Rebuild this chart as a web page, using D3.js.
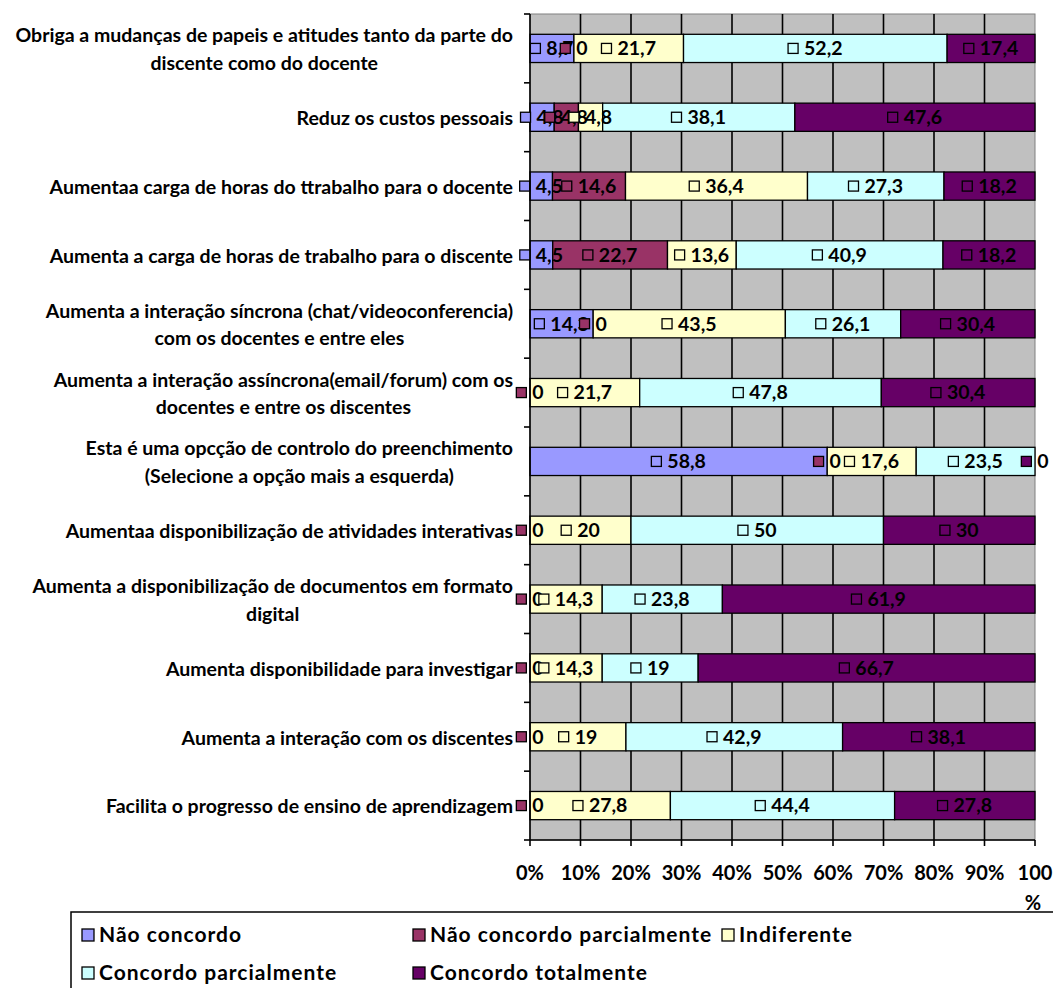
<!DOCTYPE html>
<html lang="pt">

<head>
    <meta charset="UTF-8">
    <title>Stacked 100% bar</title>
    <script src="https://d3js.org/d3.v7.min.js"></script>
    <style>
        body {
            margin: 0;
            background: #fff;
        }

        svg text {
            font-family: Lato, "Open Sans", sans-serif;
            font-weight: bold;
            fill: #000;
        }
    </style>
</head>

<body>
    <svg width="1053" height="988"></svg>

    <script>
        const categories = [
            "Obriga a mudanças de papeis e atitudes tanto da parte do\ndiscente como do docente",
            "Reduz os custos pessoais",
            "Aumentaa carga de horas do ttrabalho para o docente",
            "Aumenta a carga de horas de trabalho para o discente",
            "Aumenta a interação síncrona (chat/videoconferencia)\ncom os docentes e entre eles",
            "Aumenta a interação assíncrona(email/forum) com os\ndocentes e entre os discentes",
            "Esta é uma opcção de controlo do preenchimento\n(Selecione a opção mais a esquerda)",
            "Aumentaa disponibilização de atividades interativas",
            "Aumenta a disponibilização de documentos em formato\ndigital",
            "Aumenta disponibilidade para investigar",
            "Aumenta a interação com os discentes",
            "Facilita o progresso de ensino de aprendizagem"
        ];

        const seriesNames = ["Não concordo", "Não concordo parcialmente", "Indiferente", "Concordo parcialmente", "Concordo totalmente"];
        const seriesColors = ["#9999ff", "#993366", "#ffffcc", "#ccffff", "#660066"];

        const naoConcordo = [8.7, 4.8, 4.5, 4.5, 14.3, null, 58.8, null, null, null, null, null];
        const naoConcordoParc = [0, 4.8, 14.6, 22.7, 0, 0, 0, 0, 0, 0, 0, 0];
        const indiferente = [21.7, 4.8, 36.4, 13.6, 43.5, 21.7, 17.6, 20, 14.3, 14.3, 19, 27.8];
        const concordoParc = [52.2, 38.1, 27.3, 40.9, 26.1, 47.8, 23.5, 50, 23.8, 19, 42.9, 44.4];
        const concordoTot = [17.4, 47.6, 18.2, 18.2, 30.4, 30.4, 0, 30, 61.9, 66.7, 38.1, 27.8];

        const xTicks = ["0%", "10%", "20%", "30%", "40%", "50%", "60%", "70%", "80%", "90%", "100%"];

        const allSeries = [naoConcordo, naoConcordoParc, indiferente, concordoParc, concordoTot];

        // rows for the stack
        const rows = categories.map((c, i) => {
            const r = { cat: c };
            seriesNames.forEach((s, k) => r[s] = allSeries[k][i]);
            return r;
        });

        const svg = d3.select("svg");
        const plotL = 530, plotR = 1035, plotT = 14, plotB = 840;

        const x = d3.scaleLinear().domain([0, 1]).range([plotL, plotR]);
        const y = d3.scaleBand().domain(categories).range([plotT, plotB]).paddingInner(0.59).paddingOuter(0.295);

        const stack = d3.stack()
            .keys(seriesNames)
            .value((d, k) => d[k] == null ? 0 : d[k])
            .offset(d3.stackOffsetExpand);
        const stacked = stack(rows);

        // plot background
        svg.append("rect")
            .attr("x", plotL).attr("y", plotT)
            .attr("width", plotR - plotL).attr("height", plotB - plotT)
            .attr("fill", "#c0c0c0")
            .attr("stroke", "#808080");

        // vertical grid
        svg.append("g")
            .selectAll("line")
            .data(d3.range(1, 10).map(i => i / 10))
            .join("line")
            .attr("x1", d => x(d)).attr("x2", d => x(d))
            .attr("y1", plotT).attr("y2", plotB)
            .attr("stroke", "#000")
            .attr("stroke-width", 1.6);

        // bars
        stacked.forEach((layer, k) => {
            svg.append("g")
                .selectAll("rect")
                .data(layer)
                .join("rect")
                .attr("x", d => x(d[0]))
                .attr("y", d => y(d.data.cat))
                .attr("width", d => x(d[1]) - x(d[0]))
                .attr("height", y.bandwidth())
                .attr("fill", seriesColors[k])
                .attr("stroke", "#000")
                .attr("stroke-width", 1.3);
        });

        // axes
        const yAxis = svg.append("g");
        yAxis.append("line")
            .attr("x1", plotL).attr("x2", plotL)
            .attr("y1", plotT).attr("y2", plotB)
            .attr("stroke", "#000").attr("stroke-width", 1.6);
        yAxis.selectAll("line.tick")
            .data(d3.range(0, categories.length + 1))
            .join("line")
            .attr("class", "tick")
            .attr("x1", plotL - 6).attr("x2", plotL)
            .attr("y1", i => plotT + i * y.step()).attr("y2", i => plotT + i * y.step())
            .attr("stroke", "#000").attr("stroke-width", 1.6);

        const xAxis = svg.append("g");
        xAxis.append("line")
            .attr("x1", plotL).attr("x2", plotR)
            .attr("y1", plotB).attr("y2", plotB)
            .attr("stroke", "#000").attr("stroke-width", 1.6);
        xAxis.selectAll("line.tick")
            .data(xTicks)
            .join("line")
            .attr("class", "tick")
            .attr("x1", (d, i) => x(i / 10)).attr("x2", (d, i) => x(i / 10))
            .attr("y1", plotB).attr("y2", plotB + 6)
            .attr("stroke", "#000").attr("stroke-width", 1.6);
        xAxis.selectAll("text")
            .data(xTicks)
            .join("text")
            .attr("x", (d, i) => x(i / 10))
            .attr("y", 880)
            .attr("text-anchor", "middle")
            .style("font-size", "20px")
            .each(function (d) {
                const t = d3.select(this);
                if (d.length > 3) {
                    t.append("tspan").attr("x", t.attr("x")).text(d.slice(0, 3));
                    t.append("tspan").attr("x", +t.attr("x") - 2).attr("dy", 30).text(d.slice(3));
                } else {
                    t.text(d);
                }
            });

        // category labels (wrapped lines centered, block right-aligned)
        categories.forEach(c => {
            const lines = c.split("\n");
            const cy = y(c) + y.bandwidth() / 2 + 1;
            const g = svg.append("g");
            const texts = lines.map((ln, j) => g.append("text")
                .attr("y", cy + (j - (lines.length - 1) / 2) * 27.5)
                .attr("dy", "0.35em")
                .attr("text-anchor", "middle")
                .style("font-size", "19.5px")
                .text(ln));
            const w = d3.max(texts, t => t.node().getComputedTextLength());
            texts.forEach(t => t.attr("x", 513 - w / 2));
        });

        // data labels: legend key + value, centered on the segment
        const fmt = v => String(v).replace(".", ",");
        stacked.forEach((layer, k) => {
            layer.forEach(d => {
                const v = d.data[seriesNames[k]];
                if (v == null) return;
                const cx = x((d[0] + d[1]) / 2);
                const cy = y(d.data.cat) + y.bandwidth() / 2;
                const g = svg.append("g");
                const t = g.append("text")
                    .attr("y", cy)
                    .attr("dy", "0.35em")
                    .style("font-size", "19.5px")
                    .text(fmt(v));
                const tw = t.node().getComputedTextLength();
                const key = 10, gap = 6;
                const total = key + gap + tw;
                const x0 = cx - total / 2;
                g.insert("rect", "text")
                    .attr("x", x0).attr("y", cy - key / 2)
                    .attr("width", key).attr("height", key)
                    .attr("fill", seriesColors[k])
                    .attr("stroke", "#000").attr("stroke-width", 1.3);
                t.attr("x", x0 + key + gap);
            });
        });

        // legend
        const legend = svg.append("g");
        legend.append("rect")
            .attr("x", 71).attr("y", 912)
            .attr("width", 1000).attr("height", 100)
            .attr("fill", "#fff")
            .attr("stroke", "#000").attr("stroke-width", 1.5);
        const legendPos = [[82, 935], [413, 935], [722, 935], [82, 973], [413, 973]];
        seriesNames.forEach((s, k) => {
            const [lx, ly] = legendPos[k];
            legend.append("rect")
                .attr("x", lx).attr("y", ly - 6)
                .attr("width", 12).attr("height", 12)
                .attr("fill", seriesColors[k])
                .attr("stroke", "#000").attr("stroke-width", 1.3);
            legend.append("text")
                .attr("x", lx + 17).attr("y", ly)
                .attr("dy", "0.35em")
                .style("font-size", "21px")
                .style("letter-spacing", "1px")
                .text(s);
        });
    </script>
</body>

</html>
